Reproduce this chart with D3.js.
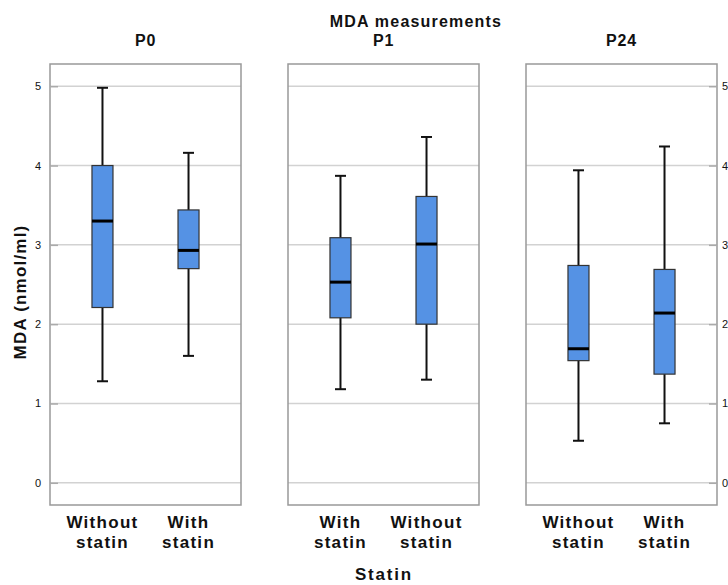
<!DOCTYPE html>
<html>
<head>
<meta charset="utf-8">
<script src="https://cdn.jsdelivr.net/npm/d3@7"></script>
<style>
  body { margin: 0; background: white; }
  text { font-family: "Liberation Sans", Arial, sans-serif; fill: #111; }
</style>
</head>
<body>
<div class="chart"></div>
<script>
// panels (time points) and the group order inside each panel
var panels = ["P0", "P1", "P24"];
var groupsByPanel = [
    ["Without statin", "With statin"],
    ["With statin", "Without statin"],
    ["Without statin", "With statin"]
];
// box statistics, same order as groupsByPanel
var whiskerLow = [[1.28, 1.60], [1.18, 1.30], [0.53, 0.75]];
var q1Values = [[2.21, 2.70], [2.08, 2.00], [1.54, 1.37]];
var medians = [[3.30, 2.93], [2.53, 3.01], [1.69, 2.14]];
var q3Values = [[4.00, 3.44], [3.09, 3.61], [2.74, 2.69]];
var whiskerHigh = [[4.98, 4.16], [3.87, 4.36], [3.94, 4.24]];
var yTicks = [0, 1, 2, 3, 4, 5];

var width = 728, height = 585;
var plotTop = 64, plotBottom = 505;
var panelLeft = [50, 288, 526];
var panelWidth = 191;

var svg = d3.select(".chart")
    .append("svg")
    .attr("width", width)
    .attr("height", height)

var y = d3.scaleLinear()
    .domain([-0.28, 5.28])
    .range([plotBottom, plotTop])

svg.append("text")
    .attr("x", 416)
    .attr("y", 27)
    .attr("text-anchor", "middle")
    .style("font-size", "16px")
    .style("font-weight", "bold")
    .style("letter-spacing", "1.2px")
    .text("MDA measurements")

panels.forEach(function(p, pi) {
    var g = svg.append("g")
        .attr("transform", "translate(" + panelLeft[pi] + ",0)")

    var x = d3.scalePoint()
        .domain(groupsByPanel[pi])
        .range([0, panelWidth])
        .padding(0.61)

    g.append("text")
        .attr("x", panelWidth / 2)
        .attr("y", 46)
        .attr("text-anchor", "middle")
        .style("font-size", "16px")
        .style("font-weight", "bold")
        .style("letter-spacing", "0.8px")
        .text(p)

    g.selectAll(".grid")
        .data(yTicks)
        .enter().append("line")
        .attr("class", "grid")
        .attr("x1", 0)
        .attr("x2", panelWidth)
        .attr("y1", function(d) { return y(d); })
        .attr("y2", function(d) { return y(d); })
        .attr("stroke", "#d2d2d2")
        .attr("stroke-width", 1.5)

    g.append("rect")
        .attr("x", 0)
        .attr("y", plotTop)
        .attr("width", panelWidth)
        .attr("height", plotBottom - plotTop)
        .attr("fill", "none")
        .attr("stroke", "#999")
        .attr("stroke-width", 1.5)

    var boxes = g.selectAll(".box")
        .data(groupsByPanel[pi].map(function(name, i) {
            return {
                name: name,
                lo: whiskerLow[pi][i],
                q1: q1Values[pi][i],
                med: medians[pi][i],
                q3: q3Values[pi][i],
                hi: whiskerHigh[pi][i]
            };
        }))
        .enter().append("g")
        .attr("class", "box")
        .attr("transform", function(d) {
            return "translate(" + x(d.name) + ",0)"
        })

    boxes.append("line")
        .attr("x1", 0).attr("x2", 0)
        .attr("y1", function(d) { return y(d.lo); })
        .attr("y2", function(d) { return y(d.hi); })
        .attr("stroke", "#111")
        .attr("stroke-width", 2)

    boxes.selectAll(".cap")
        .data(function(d) { return [d.lo, d.hi]; })
        .enter().append("line")
        .attr("class", "cap")
        .attr("x1", -5.5).attr("x2", 5.5)
        .attr("y1", function(v) { return y(v); })
        .attr("y2", function(v) { return y(v); })
        .attr("stroke", "#111")
        .attr("stroke-width", 2)

    boxes.append("rect")
        .attr("x", -10.5)
        .attr("width", 21)
        .attr("y", function(d) { return y(d.q3); })
        .attr("height", function(d) { return y(d.q1) - y(d.q3); })
        .attr("fill", "#5592e4")
        .attr("stroke", "#333")
        .attr("stroke-width", 1.2)

    boxes.append("line")
        .attr("x1", -10.5).attr("x2", 10.5)
        .attr("y1", function(d) { return y(d.med); })
        .attr("y2", function(d) { return y(d.med); })
        .attr("stroke", "#000")
        .attr("stroke-width", 3)

    var label = g.selectAll(".xlab")
        .data(groupsByPanel[pi])
        .enter().append("text")
        .attr("class", "xlab")
        .attr("x", function(d) { return x(d); })
        .attr("y", 528)
        .attr("text-anchor", "middle")
        .style("font-size", "17px")
        .style("font-weight", "bold")
        .style("letter-spacing", "1.3px")

    label.selectAll("tspan")
        .data(function(d) { return d.split(" "); })
        .enter().append("tspan")
        .attr("x", function() { return x(this.parentNode.__data__); })
        .attr("dy", function(d, i) { return i === 0 ? 0 : 20; })
        .text(function(d) { return d; })
})

// left axis on first panel, right axis on last panel
var leftAxis = svg.append("g")
    .attr("transform", "translate(" + panelLeft[0] + ",0)")
    .call(d3.axisRight(y).tickValues(yTicks).tickSize(8).tickFormat(""))
leftAxis.select(".domain").remove()
leftAxis.selectAll("line").attr("stroke", "#aaa").attr("stroke-width", 1.5)

svg.selectAll(".ylabL")
    .data(yTicks)
    .enter().append("text")
    .attr("x", 41)
    .attr("y", function(d) { return y(d) + 4; })
    .attr("text-anchor", "end")
    .style("font-size", "11px")
    .text(function(d) { return d; })

var rightX = panelLeft[2] + panelWidth;
var rightAxis = svg.append("g")
    .attr("transform", "translate(" + rightX + ",0)")
    .call(d3.axisLeft(y).tickValues(yTicks).tickSize(8).tickFormat(""))
rightAxis.select(".domain").remove()
rightAxis.selectAll("line").attr("stroke", "#aaa").attr("stroke-width", 1.5)

svg.selectAll(".ylabR")
    .data(yTicks)
    .enter().append("text")
    .attr("x", 722)
    .attr("y", function(d) { return y(d) + 4; })
    .style("font-size", "11px")
    .text(function(d) { return d; })

svg.append("text")
    .attr("transform", "translate(26," + 292 + ") rotate(-90)")
    .attr("text-anchor", "middle")
    .style("font-size", "17px")
    .style("font-weight", "bold")
    .style("letter-spacing", "1.2px")
    .text("MDA (nmol/ml)")

svg.append("text")
    .attr("x", 384)
    .attr("y", 580)
    .attr("text-anchor", "middle")
    .style("font-size", "17px")
    .style("font-weight", "bold")
    .style("letter-spacing", "1.8px")
    .text("Statin")
</script>
</body>
</html>
